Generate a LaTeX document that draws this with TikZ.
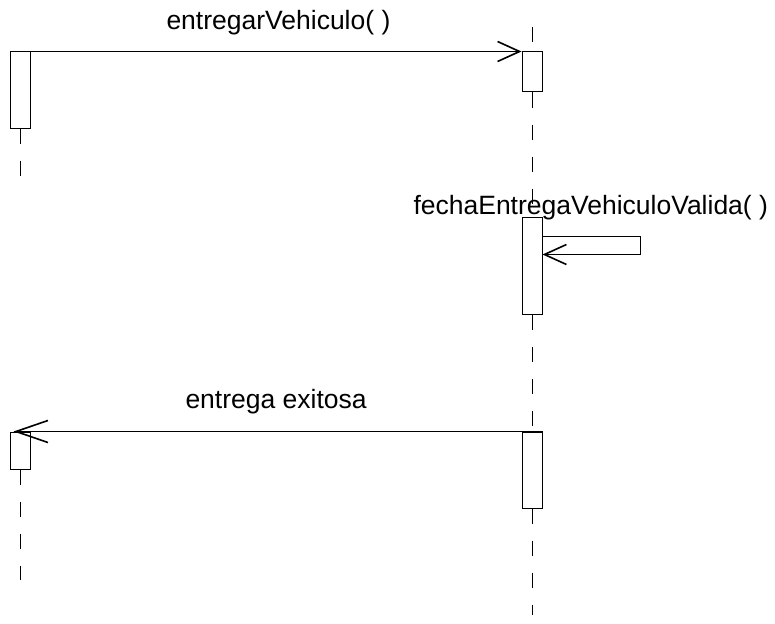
\documentclass[tikz,border=0pt]{standalone}
\usepackage{fontspec}
\setmainfont{Liberation Sans}
\usetikzlibrary{arrows.meta}
\tikzset{
  act/.style={draw, fill=white, minimum width=20pt, inner sep=0pt},
  msg/.style={-{Straight Barb[length=22pt,width=20pt,line width=1.6pt]}},
  msgback/.style={-{Straight Barb[length=32pt,width=22pt,line width=1.6pt]}},
  life/.style={dash pattern=on 15pt off 17pt},
  lbl/.style={font=\fontsize{26.5}{30}\selectfont, inner sep=0pt, anchor=base west}
}
\begin{document}
\begin{tikzpicture}[x=1pt, y=-1pt, line width=1pt]
        \useasboundingbox (0,0) rectangle (775,623);
        \coordinate (ltop) at (20,178);
        \coordinate (lend) at (20,580);
        \coordinate (rtop) at (532,27);
        \coordinate (rend) at (532,615);
        \node [act, minimum height=76pt] (b1) at (20,90) {};
        \node [act, minimum height=40pt] (r1) at (532,72) {};
        \node [act, minimum height=97pt] (r2) at (532,265.5) {};
        \node [act, minimum height=76pt] (r3) at (532,470) {};
        \node [act, minimum height=37pt] (b3) at (20,450.5) {};
        \draw [life] (b1.south) -- (ltop);
        \draw [life] (b3.south) -- (lend);
        \draw [life] (rtop) -- (r1.north);
        \draw [life] (r1.south) -- (r2.north);
        \draw [life] (r2.south) -- (r3.north);
        \draw [life] (r3.south) -- (rend);
        \node [lbl] (m1) at (166,30) {entregarVehiculo( )};
        \draw [msg] (b1.north west) -- (r1.north west);
        \node [lbl] (m2) at (413,214) {fechaEntregaVehiculoValida( )};
        \draw [msg] ([yshift=-20pt]r2.north east) -- ++(98,0) -- ++(0,18) -- ([yshift=-38pt]r2.north east);
        \node [lbl] (m3) at (185,408) {entrega exitosa};
        \draw [msgback] (r3.north east) -- ([xshift=4pt]b3.north west);
\end{tikzpicture}
\end{document}
